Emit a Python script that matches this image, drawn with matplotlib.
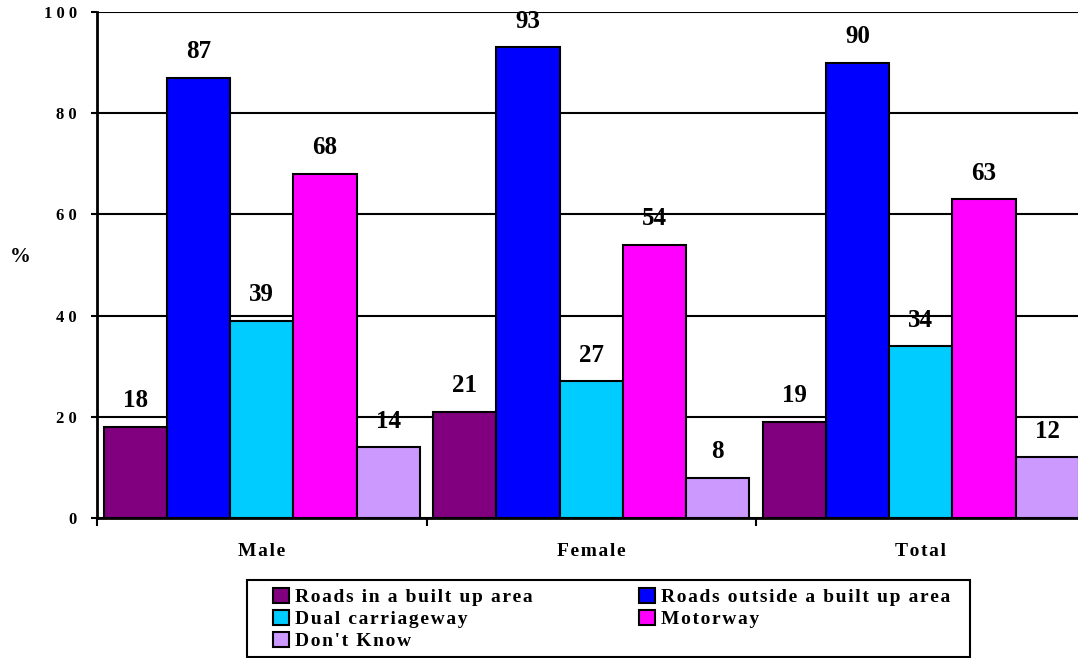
import numpy as np
import matplotlib.pyplot as plt
from matplotlib.patches import Rectangle

groups = ["Male", "Female", "Total"]
series = ["Roads in a built up area", "Roads outside a built up area",
          "Dual carriageway", "Motorway", "Don't Know"]
built_up = [18, 21, 19]
outside = [87, 93, 90]
dual = [39, 27, 34]
motorway = [68, 54, 63]
dont_know = [14, 8, 12]
values = [built_up, outside, dual, motorway, dont_know]
colors = ["#800080", "#0000FF", "#00CCFF", "#FF00FF", "#CC99FF"]
yticks = [0, 20, 40, 60, 80, 100]

plt.rcParams['font.family'] = ['Liberation Serif', 'DejaVu Serif']
plt.rcParams['font.weight'] = 'bold'


def spaced(s, n=1):
    # wide letter spacing like the original
    return ("\u200a" * n).join(s)


fig = plt.figure(figsize=(10.78, 6.58), dpi=100)
ax = fig.add_axes([97 / 1078, 140 / 658, 988.5 / 1078, 506 / 658])

x = np.arange(len(groups)) + 0.5
w = 0.192
bars = []
for i, (vals, col) in enumerate(zip(values, colors)):
    b = ax.bar(x + (i - 2) * w, vals, w, color=col, edgecolor="black",
               linewidth=1.5, zorder=3)
    bars.append(b)
    for xi, v in zip(x + (i - 2) * w, vals):
        ax.annotate(str(v), (xi, v), xytext=(0, 14), textcoords="offset points",
                    ha="center", va="baseline", fontsize=18, fontweight="bold",
                    zorder=5)

ax.set_xlim(0, 3)
ax.set_ylim(0, 100)
ax.set_yticks(yticks)
ax.set_yticklabels([spaced(str(t), 3) for t in yticks], fontsize=12, fontweight="bold")
ax.tick_params(axis="y", direction="out", length=4, width=1.5, pad=10.5)
ax.set_xticks([0, 1, 2, 3])
ax.set_xticklabels([])
ax.set_xticks(x, minor=True)
ax.set_xticklabels([spaced(g) for g in groups], minor=True, fontsize=14, fontweight="bold")
ax.tick_params(axis="x", which="major", direction="out", length=6, width=1.5)
ax.tick_params(axis="x", which="minor", length=0, pad=18)
ax.grid(axis="y", color="black", linewidth=1.5, zorder=0)
ax.set_axisbelow(True)
for s in ["top", "right"]:
    ax.spines[s].set_visible(False)
ax.spines["left"].set_linewidth(2)
ax.spines["bottom"].set_linewidth(2)

fig.text(20 / 1078, 1 - 257 / 658, "%", ha="center", va="center",
         fontsize=15, fontweight="bold")

# legend frame drawn separately (wider side padding than the rows)
fig.patches.append(Rectangle((247 / 1078, 1 / 658), (970 - 247) / 1078, 77 / 658,
                             transform=fig.transFigure, fill=False,
                             edgecolor="black", linewidth=1.5))

order = [0, 2, 4, 1, 3]
handles = [bars[i] for i in order]
labels = [spaced(series[i]) for i in order]
leg = fig.legend(handles, labels, loc="upper left", ncol=2,
                 bbox_to_anchor=(273 / 1078, 1 - 588 / 658),
                 fontsize=14, frameon=False,
                 handlelength=0.82, handleheight=0.82, handletextpad=0.3,
                 labelspacing=0.18, columnspacing=5.5, borderpad=0,
                 borderaxespad=0)

fig.savefig("out.png", dpi=100)
